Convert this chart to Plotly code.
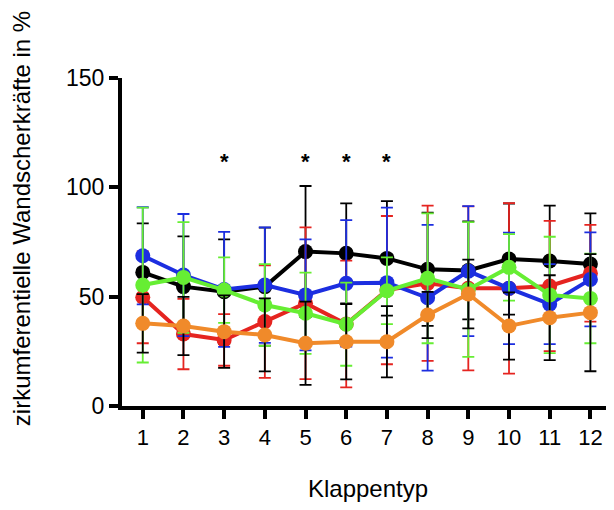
import plotly.graph_objects as go

klappentyp = [1, 2, 3, 4, 5, 6, 7, 8, 9, 10, 11, 12]
x_tick_labels = ["1", "2", "3", "4", "5", "6", "7", "8", "9", "10", "11", "12"]
y_tick_values = [0, 50, 100, 150]

black_mean = [61.1, 54.6, 52.3, 54.6, 70.6, 69.8, 67.5, 62.5, 62.0, 67.2, 66.3, 64.9]
black_sd = [22.4, 23.0, 23.9, 27.0, 30.0, 22.9, 26.2, 25.9, 22.4, 25.4, 25.3, 23.2]

red_mean = [49.7, 32.9, 30.2, 38.6, 47.0, 37.5, 53.0, 56.1, 53.8, 53.8, 54.9, 60.7]
red_sd = [21.0, 16.1, 11.8, 25.7, 34.7, 29.0, 33.9, 35.5, 37.5, 39.0, 29.8, 22.1]

blue_mean = [68.7, 59.9, 53.3, 55.3, 50.8, 56.1, 56.4, 49.5, 61.7, 53.8, 46.6, 57.9]
blue_sd = [22.2, 27.9, 26.3, 26.4, 25.4, 28.9, 34.3, 33.3, 29.7, 25.5, 18.3, 21.5]

green_mean = [55.3, 58.8, 53.0, 46.2, 42.4, 37.4, 52.7, 58.4, 53.3, 63.4, 50.8, 49.2]
green_sd = [35.4, 25.3, 15.0, 18.7, 18.6, 19.0, 15.3, 29.7, 30.8, 15.2, 26.6, 20.5]

orange_mean = [37.8, 36.6, 34.0, 32.5, 28.7, 29.4, 29.4, 41.6, 51.2, 36.6, 40.4, 42.7]
orange_sd = [13.4, 13.3, 16.6, 16.7, 19.0, 17.2, 16.3, 10.6, 15.7, 15.4, 19.4, 26.8]

star_positions = [3, 5, 6, 7]
star_level = [112, 112, 112, 112]

series = [
    ("black", black_mean, black_sd, "#000000", "#000000"),
    ("red", red_mean, red_sd, "#e52420", "#e52420"),
    ("blue", blue_mean, blue_sd, "#1c2ee0", "#1c2ee0"),
    ("green", green_mean, green_sd, "#66ee33", "#66ee33"),
    ("orange", orange_mean, orange_sd, "#f08a2a", "#000000"),
]

fig = go.Figure()
for name, mean, sd, color, ecolor in series:
    fig.add_trace(go.Scatter(
        x=klappentyp, y=mean, name=name, mode="lines+markers",
        line=dict(color=color, width=4),
        marker=dict(color=color, size=15),
        error_y=dict(type="data", array=sd, visible=True,
                     color=ecolor, thickness=1.8, width=6),
        showlegend=False,
    ))

for xs, ys in zip(star_positions, star_level):
    fig.add_annotation(x=xs, y=ys, xref="x", yref="y", text="<b>*</b>",
                       showarrow=False, font=dict(size=22, color="black"),
                       yanchor="middle")

fig.add_annotation(
    x=-0.205, y=0.57, xref="paper", yref="paper",
    text="zirkumferentielle Wandscherkräfte in %",
    textangle=-90, showarrow=False,
    font=dict(size=24, color="black"),
    xanchor="center", yanchor="middle",
)

fig.update_layout(
    width=606, height=502,
    margin=dict(l=114, r=0, t=70, b=104),
    paper_bgcolor="white", plot_bgcolor="white",
    font=dict(family="Liberation Sans, Arial, sans-serif", color="black"),
    xaxis=dict(
        range=[0.49, 12.58], tickmode="array",
        tickvals=klappentyp, ticktext=x_tick_labels,
        showgrid=False, zeroline=False,
        showline=True, linecolor="black", linewidth=4,
        ticks="outside", ticklen=9, tickwidth=3.5, tickcolor="black",
        tickfont=dict(size=22),
        title=dict(text="Klappentyp", font=dict(size=24), standoff=32),
    ),
    yaxis=dict(
        range=[0, 150], tickmode="array", tickvals=y_tick_values,
        showgrid=False, zeroline=False,
        showline=True, linecolor="black", linewidth=4,
        ticks="outside", ticklen=9, tickwidth=3.5, tickcolor="black",
        tickfont=dict(size=23),
    ),
)

fig.write_html("out.html")
